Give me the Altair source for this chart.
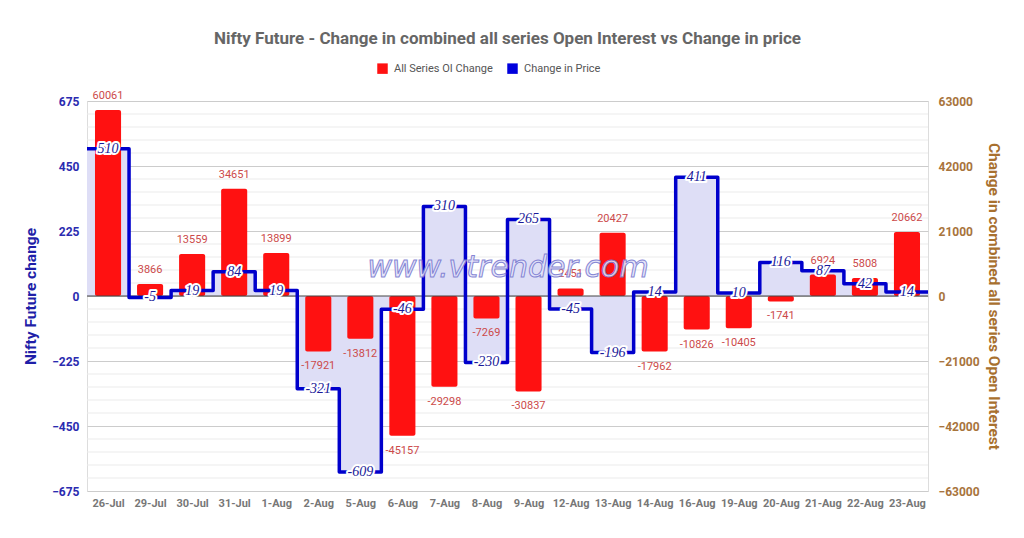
import json
import altair as alt
import pandas as pd

dates = ["26-Jul", "29-Jul", "30-Jul", "31-Jul", "1-Aug", "2-Aug", "5-Aug", "6-Aug",
         "7-Aug", "8-Aug", "9-Aug", "12-Aug", "13-Aug", "14-Aug", "16-Aug", "19-Aug",
         "20-Aug", "21-Aug", "22-Aug", "23-Aug"]
oi_change = [60061, 3866, 13559, 34651, 13899, -17921, -13812, -45157, -29298, -7269,
             -30837, 2451, 20427, -17962, -10826, -10405, -1741, 6924, 5808, 20662]
price_change = [510, -5, 19, 84, 19, -321, -609, -46, 310, -230,
                265, -45, -196, 14, 411, 10, 116, 87, 42, 14]

price_ticks = [-675, -450, -225, 0, 225, 450, 675]
oi_ticks = [-63000, -42000, -21000, 0, 21000, 42000, 63000]
minor_grid = [v for v in range(-675, 676, 45) if v not in price_ticks]

n = len(dates)
df = pd.DataFrame({"i": list(range(n)), "date": dates, "oi": oi_change, "price": price_change})
df["x1"] = df["i"] - 0.31
df["x2"] = df["i"] + 0.31
df["oilab"] = df["oi"].astype(str)
df["plab"] = df["price"].astype(str)

step_df = pd.DataFrame({
    "i": [i - 0.5 for i in range(n)] + [n - 0.5],
    "price": price_change + [price_change[-1]],
})
grid_df = pd.DataFrame({"g": minor_grid})
zero_df = pd.DataFrame({"z": [0]})

XDOM = [-0.5, n - 0.5]
PDOM = [-675, 675]
ODOM = [-63000, 63000]
label_expr = json.dumps(dates) + "[datum.value]"

x_axis = alt.Axis(values=list(range(n)), labelExpr=label_expr, grid=False, domain=False,
                  ticks=False, labelColor="#777777", labelFontWeight="bold", labelFont="Roboto",
                  labelFontSize=11, labelPadding=6, title=None)
xscale = alt.Scale(domain=XDOM, nice=False, zero=False)
xq = alt.X("i:Q", scale=xscale, axis=x_axis)

base = alt.Chart(df)

# minor grid
minor = alt.Chart(grid_df).mark_rule(color="#ebebeb", size=1).encode(
    y=alt.Y("g:Q", scale=alt.Scale(domain=PDOM, nice=False), axis=None)
)

area = alt.Chart(step_df).mark_area(interpolate="step-after", color="#dedef6", opacity=1).encode(
    x=xq,
    y=alt.Y("price:Q", scale=alt.Scale(domain=PDOM, nice=False),
            axis=alt.Axis(orient="left", values=price_ticks, grid=True, gridColor="#cccccc",
                          domain=False, ticks=False, labelColor="#2b2bb0", labelFontWeight="bold",
                          labelFont="Roboto", labelFontSize=12, labelPadding=8,
                          title="Nifty Future change", titleColor="#1f1fa8", titleFont="Roboto",
                          titleFontSize=15.5, titleFontWeight="bold", titlePadding=13)),
    y2=alt.datum(0),
)

bars = base.mark_bar(color="#ff1111", cornerRadius=2).encode(
    x=alt.X("x1:Q", scale=xscale, axis=x_axis),
    x2="x2:Q",
    y=alt.Y("oi:Q", scale=alt.Scale(domain=ODOM, nice=False),
            axis=alt.Axis(orient="right", values=oi_ticks, grid=False, domain=False, ticks=False,
                          format="d",
                          labelColor="#a8743c", labelFontWeight="bold", labelFont="Roboto",
                          labelFontSize=12, labelPadding=10,
                          title="Change in combined all series Open Interest", titleColor="#a8702f",
                          titleFont="Roboto", titleFontSize=15.5, titleFontWeight="bold",
                          titlePadding=6)),
    y2=alt.datum(0),
)

oi_y = alt.Y("oi:Q", scale=alt.Scale(domain=ODOM, nice=False), axis=None)
lab_pos = base.transform_filter("datum.oi >= 0").mark_text(
    baseline="bottom", dy=-9, color="#cc4a4a", font="Roboto", fontSize=11
).encode(x=xq, y=oi_y, text="oilab:N")
lab_neg = base.transform_filter("datum.oi < 0").mark_text(
    baseline="top", dy=9, color="#cc4a4a", font="Roboto", fontSize=11
).encode(x=xq, y=oi_y, text="oilab:N")

zero = alt.Chart(zero_df).mark_rule(color="#444444", size=1).encode(
    y=alt.Y("z:Q", scale=alt.Scale(domain=PDOM, nice=False), axis=None)
)

line = alt.Chart(step_df).mark_line(interpolate="step-after", color="#0000cc", strokeWidth=3.5,
                                     strokeJoin="round").encode(
    x=xq,
    y=alt.Y("price:Q", scale=alt.Scale(domain=PDOM, nice=False), axis=None),
)

p_y = alt.Y("price:Q", scale=alt.Scale(domain=PDOM, nice=False), axis=None)
plab_halo = base.mark_text(font="Liberation Serif", fontStyle="italic", fontSize=14,
                           color="white", stroke="white", strokeWidth=4, strokeJoin="round").encode(
    x=xq, y=p_y, text="plab:N")
plab = base.mark_text(font="Liberation Serif", fontStyle="italic", fontSize=14,
                      color="#1a1a99").encode(x=xq, y=p_y, text="plab:N")

watermark = alt.Chart(zero_df).mark_text(
    text="www.vtrender.com", font="DejaVu Sans", fontStyle="italic", fontSize=30,
    color="#e4e4fa", stroke="#7a7ad0", strokeWidth=1, opacity=0.9
).encode(x=alt.value(421), y=alt.value(167))

legend_df = pd.DataFrame({"s": ["All Series OI Change", "Change in Price"]})
legend_layer = alt.Chart(legend_df).mark_square(filled=True, opacity=0, size=10).encode(
    color=alt.Color("s:N", scale=alt.Scale(domain=["All Series OI Change", "Change in Price"],
                                           range=["#ff1111", "#0000dd"]),
                    legend=alt.Legend(orient="none", legendX=290, legendY=-38, direction="horizontal",
                                      title=None, symbolType="square", symbolSize=110,
                                      symbolOpacity=1, symbolStrokeWidth=0,
                                      labelFont="Roboto", labelFontSize=11, labelColor="#555555",
                                      columnPadding=14, labelOffset=6)),
    x=alt.value(0), y=alt.value(0),
)

chart = alt.layer(
    minor, area, bars, zero, line, lab_pos, lab_neg, plab_halo, plab, watermark, legend_layer
).resolve_scale(y="independent", color="independent").properties(
    width=841, height=390,
    title=alt.TitleParams("Nifty Future - Change in combined all series Open Interest vs Change in price",
                          font="Roboto", fontSize=17, fontWeight="bold", color="#666666",
                          anchor="middle", offset=15),
    autosize=alt.AutoSizeParams(type="none"),
    padding={"left": 79, "top": 93, "right": 88, "bottom": 39},
).configure_view(stroke=None).configure(background="white")

chart.save("out.html", embed_options={"renderer": "svg", "actions": False})
